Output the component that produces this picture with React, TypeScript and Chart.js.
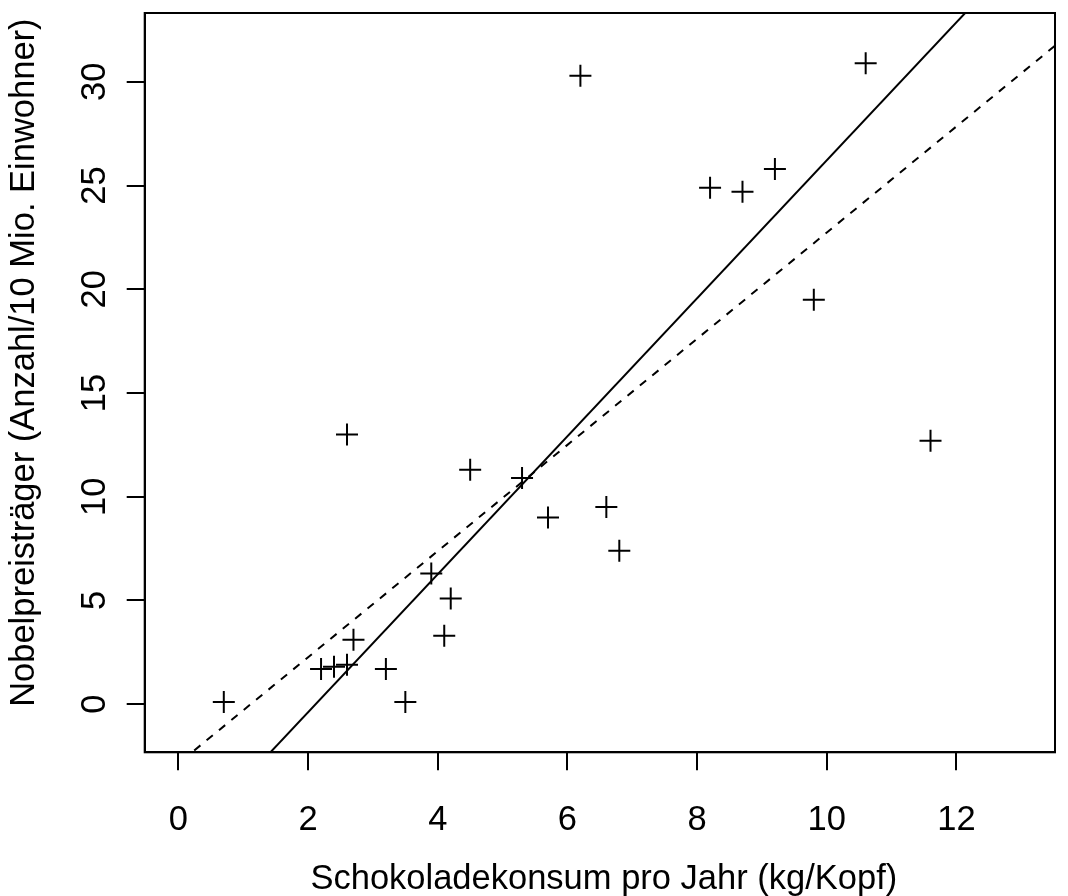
import React, { useEffect, useRef } from "react";
import { Chart, registerables } from "chart.js";

Chart.register(...registerables);

// Data
const chocolate = [0.7, 2.2, 2.4, 2.6, 2.6, 2.7, 3.2, 3.5, 3.9, 4.1, 4.2, 4.5, 5.3, 5.7, 6.2, 6.6, 6.8, 8.2, 8.7, 9.2, 9.8, 10.6, 11.6];
const nobel = [0.1, 1.7, 1.8, 1.9, 13.0, 3.1, 1.7, 0.1, 6.3, 3.3, 5.1, 11.3, 10.9, 9.0, 30.3, 9.5, 7.4, 24.9, 24.7, 25.8, 19.5, 30.9, 12.7];

// Fitted lines: [intercept, slope]
const solidLine = [-7.04, 3.326];
const dashedLine = [-2.855, 2.559];

const xTicks = [0, 2, 4, 6, 8, 10, 12];
const yTicks = [0, 5, 10, 15, 20, 25, 30];
const xLimits = [0, 13];
const yLimits = [-1, 32];

const xTitle = "Schokoladekonsum pro Jahr (kg/Kopf)";
const yTitle = "Nobelpreisträger (Anzahl/10 Mio. Einwohner)";

const FONT = "'Liberation Sans', Arial, Helvetica, sans-serif";
const FSIZE = 34.5;

function expand(lim: number[]) {
  const d = (lim[1] - lim[0]) * 0.04;
  return [lim[0] - d, lim[1] + d];
}

export default function App() {
  const ref = useRef<HTMLCanvasElement | null>(null);

  useEffect(() => {
    const canvas = ref.current;
    if (!canvas) return;
    const [xmin, xmax] = expand(xLimits);
    const [ymin, ymax] = expand(yLimits);

    const lineData = (c: number[]) => [
      { x: xmin, y: c[0] + c[1] * xmin },
      { x: xmax, y: c[0] + c[1] * xmax },
    ];

    const boxPlugin = {
      id: "rbox",
      afterDraw(chart: any) {
        const { ctx, chartArea } = chart;
        ctx.save();
        ctx.strokeStyle = "#000";
        ctx.lineWidth = 2;
        ctx.strokeRect(chartArea.left, chartArea.top, chartArea.right - chartArea.left, chartArea.bottom - chartArea.top);
        ctx.fillStyle = "#000";
        ctx.font = `${FSIZE}px ${FONT}`;
        ctx.textAlign = "center";
        ctx.textBaseline = "middle";
        // y tick labels, rotated like R
        const ys = chart.scales.y;
        ys.ticks.forEach((t: any) => {
          const py = ys.getPixelForValue(t.value);
          ctx.save();
          ctx.translate(95, py);
          ctx.rotate(-Math.PI / 2);
          ctx.fillText(String(t.value), 0, 0);
          ctx.restore();
        });
        // axis titles
        const cx = (chartArea.left + chartArea.right) / 2;
        const cy = (chartArea.top + chartArea.bottom) / 2;
        ctx.fillText(xTitle, cx + 4, 879);
        ctx.save();
        ctx.translate(24, cy - 20);
        ctx.rotate(-Math.PI / 2);
        ctx.fillText(yTitle, 0, 0);
        ctx.restore();
        ctx.restore();
      },
    };

    const chart = new Chart(canvas, {
      type: "scatter",
      data: {
        datasets: [
          {
            type: "line",
            data: lineData(solidLine),
            borderColor: "#000",
            borderWidth: 2,
            pointRadius: 0,
            fill: false,
          } as any,
          {
            type: "line",
            data: lineData(dashedLine),
            borderColor: "#000",
            borderWidth: 2,
            borderDash: [8, 8],
            pointRadius: 0,
            fill: false,
          } as any,
          {
            type: "scatter",
            data: chocolate.map((x, i) => ({ x, y: nobel[i] })),
            pointStyle: "cross",
            pointRadius: 11,
            pointBorderWidth: 2,
            borderColor: "#000",
            backgroundColor: "#000",
          } as any,
        ],
      },
      options: {
        animation: false,
        responsive: false,
        devicePixelRatio: 1,
        layout: { padding: { top: 12.7, right: 1.3, left: 0, bottom: 0 } },
        plugins: { legend: { display: false }, tooltip: { enabled: false } },
        scales: {
          x: {
            type: "linear",
            min: xmin,
            max: xmax,
            afterBuildTicks: (s: any) => {
              s.ticks = xTicks.map((v) => ({ value: v }));
            },
            afterFit: (s: any) => {
              s.height = 896 - 752.3;
            },
            ticks: {
              autoSkip: false,
              maxRotation: 0,
              minRotation: 0,
              padding: 29,
              color: "#000",
              font: { family: FONT, size: FSIZE },
              callback: (v: any) => String(v),
            },
            grid: {
              display: true,
              drawOnChartArea: false,
              drawTicks: true,
              tickLength: 18,
              color: "#000",
              lineWidth: 2,
            },
            border: { display: true, color: "#000", width: 2 },
            title: { display: false },
          },
          y: {
            type: "linear",
            min: ymin,
            max: ymax,
            afterBuildTicks: (s: any) => {
              s.ticks = yTicks.map((v) => ({ value: v }));
            },
            afterFit: (s: any) => {
              s.width = 144.7;
            },
            ticks: { display: false },
            grid: {
              display: true,
              drawOnChartArea: false,
              drawTicks: true,
              tickLength: 18,
              color: "#000",
              lineWidth: 2,
            },
            border: { display: true, color: "#000", width: 2 },
            title: { display: false },
          },
        },
      },
      plugins: [boxPlugin],
    });
    return () => chart.destroy();
  }, []);

  return (
    <div style={{ position: "absolute", left: 0, top: 0, width: 1068, height: 896, background: "#fff" }}>
      <canvas ref={ref} width={1068} height={896} style={{ width: 1068, height: 896 }} />
    </div>
  );
}
